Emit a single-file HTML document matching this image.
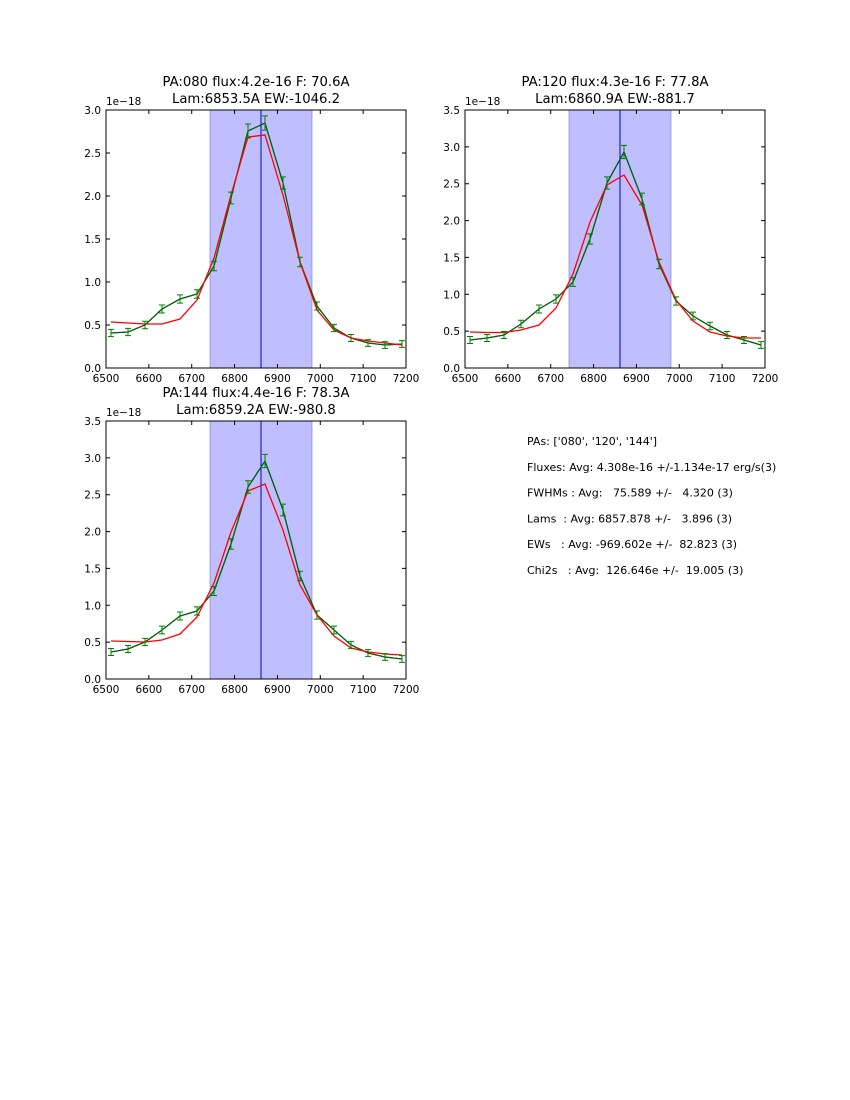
<!DOCTYPE html>
<html><head><meta charset="utf-8"><style>
body{margin:0;background:#fff;}
svg{display:block;font-family:"DejaVu Sans","Liberation Sans",sans-serif;}
</style></head><body>
<svg id="s" width="850" height="1100" viewBox="0 0 850 1100" xmlns="http://www.w3.org/2000/svg"></svg>
<script>
var s=document.getElementById('s'),h='';
var xs=[111,128,145,162,180,197,214,231,248,265,283,300,317,334,351,368,385,402];
function plot(L,T,ymax,ystep,g,r,t1,t2){
 var W=300,H=258,vx=L+155;
 h+='<rect x="'+(L+104)+'" y="'+T+'" width="102" height="'+H+'" fill="#bfbfff" stroke="#7777cc" stroke-width="0.6"/>';
 h+='<line x1="'+vx+'" y1="'+T+'" x2="'+vx+'" y2="'+(T+H)+'" stroke="#0000cc" stroke-width="1"/>';
 var ox=L-106;
 var pr='',pg='';
 for(var i=0;i<xs.length;i++){pr+=(xs[i]+ox)+','+r[i]+' ';pg+=(xs[i]+ox)+','+g[i]+' ';}
 h+='<polyline points="'+pg+'" fill="none" stroke="#0000ff" stroke-width="1"/>';
 h+='<polyline points="'+pg+'" fill="none" stroke="#006400" stroke-width="1.3"/>';
 h+='<polyline points="'+pr+'" fill="none" stroke="#ff0000" stroke-width="1.3"/>';
 for(var i=0;i<xs.length;i++){var x=xs[i]+ox,y=g[i],e=3+Math.max(0,(T+H-y))/60;
  h+='<path d="M'+x+' '+(y-e)+'V'+(y+e)+'M'+(x-3)+' '+(y-e)+'H'+(x+3)+'M'+(x-3)+' '+(y+e)+'H'+(x+3)+'" stroke="#008000" stroke-width="1" fill="none"/>';}
 h+='<rect x="'+L+'" y="'+T+'" width="'+W+'" height="'+H+'" fill="none" stroke="#000" stroke-width="1"/>';
 for(var v=6500;v<=7200;v+=100){var x=L+(v-6500)*W/700;
  h+='<path d="M'+x+' '+(T+H)+'v-4M'+x+' '+T+'v4" stroke="#000"/>';
  h+='<text x="'+x+'" y="'+(T+H+14)+'" font-size="10.5" text-anchor="middle">'+v+'</text>';}
 for(var v=0;v<=ymax+1e-9;v+=ystep){var y=T+H-v*H/ymax;
  h+='<path d="M'+L+' '+y+'h4M'+(L+W)+' '+y+'h-4" stroke="#000"/>';
  h+='<text x="'+(L-5)+'" y="'+(y+4)+'" font-size="10.5" text-anchor="end">'+v.toFixed(1)+'</text>';}
 h+='<text x="'+L+'" y="'+(T-5)+'" font-size="10.5">1e\u221218</text>';
 h+='<text x="'+(L+150)+'" y="'+(T-24)+'" font-size="13.2" text-anchor="middle">'+t1+'</text>';
 h+='<text x="'+(L+150)+'" y="'+(T-7)+'" font-size="13.2" text-anchor="middle">'+t2+'</text>';
}
plot(106,110,3.0,0.5,
[333,332,325,309,299,294,266,198,131,123,183,262,306,328,338,343,345,344],
[322,323,324,324,319,300,258,195,137,135,195,262,310,330,338,341,343,345],
'PA:080 flux:4.2e-16 F: 70.6A','Lam:6853.5A EW:-1046.2');
plot(465,110,3.5,0.5,
[340,338,335,324,309,299,282,239,183,152,199,264,301,316,326,335,340,345],
[332,332.5,332.5,330,325,308,274,222,185,175,205,262,300,321,332,336,338,338],
'PA:120 flux:4.3e-16 F: 77.8A','Lam:6860.9A EW:-881.7');
plot(106,421,3.5,0.5,
[652,649,642,630,616,611,591,544,487,461,510,576,615,630,645,653,657,659],
[641,641.5,642,640,634,617,583,532,491,484,530,585,615,636,648,652,654,655],
'PA:144 flux:4.4e-16 F: 78.3A','Lam:6859.2A EW:-980.8');
var lines=["PAs: ['080', '120', '144']","Fluxes: Avg: 4.308e-16 +/-1.134e-17 erg/s(3)","FWHMs : Avg:   75.589 +/-   4.320 (3)","Lams  : Avg: 6857.878 +/-   3.896 (3)","EWs   : Avg: -969.602e +/-  82.823 (3)","Chi2s   : Avg:  126.646e +/-  19.005 (3)"];
for(var i=0;i<lines.length;i++)h+='<text x="527" y="'+(445+i*25.8)+'" font-size="11" xml:space="preserve">'+lines[i]+'</text>';
s.innerHTML=h;
</script>
</body></html>
